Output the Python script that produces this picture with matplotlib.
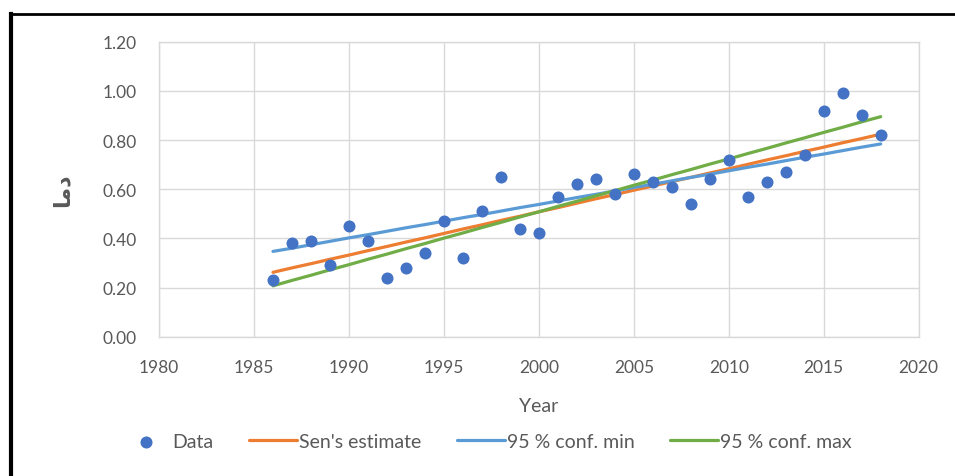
import numpy as np
import matplotlib.pyplot as plt
from matplotlib.lines import Line2D

years = list(range(1986, 2019))

data = [0.23, 0.38, 0.39, 0.29, 0.45, 0.39, 0.24, 0.28, 0.34, 0.47,
        0.32, 0.51, 0.65, 0.44, 0.42, 0.57, 0.62, 0.64, 0.58, 0.66,
        0.63, 0.61, 0.54, 0.64, 0.72, 0.57, 0.63, 0.67, 0.74, 0.92,
        0.99, 0.90, 0.82]

sen = [0.262, 0.280, 0.297, 0.315, 0.332, 0.350, 0.367, 0.385, 0.402, 0.420,
       0.438, 0.455, 0.473, 0.490, 0.508, 0.525, 0.543, 0.561, 0.578, 0.596,
       0.613, 0.631, 0.648, 0.666, 0.683, 0.701, 0.719, 0.736, 0.754, 0.771,
       0.789, 0.806, 0.824]

conf_min = [0.347, 0.360, 0.374, 0.388, 0.402, 0.415, 0.429, 0.443, 0.456, 0.470,
            0.484, 0.497, 0.511, 0.525, 0.538, 0.552, 0.566, 0.579, 0.593, 0.607,
            0.620, 0.634, 0.648, 0.661, 0.675, 0.689, 0.702, 0.716, 0.730, 0.743,
            0.757, 0.771, 0.784]

conf_max = [0.207, 0.229, 0.250, 0.272, 0.293, 0.315, 0.336, 0.358, 0.379, 0.401,
            0.422, 0.444, 0.465, 0.487, 0.508, 0.530, 0.551, 0.573, 0.594, 0.616,
            0.637, 0.659, 0.680, 0.702, 0.723, 0.745, 0.766, 0.788, 0.809, 0.831,
            0.852, 0.874, 0.895]

xticks = [1980, 1985, 1990, 1995, 2000, 2005, 2010, 2015, 2020]
yticks = [0.0, 0.2, 0.4, 0.6, 0.8, 1.0, 1.2]

plt.rcParams['font.family'] = ['Lato', 'DejaVu Sans']
txt = "#595959"
grid = "#d9d9d9"

fig = plt.figure(figsize=(9.55, 4.77), dpi=100)
ax = fig.add_axes([0.1665, 0.292, 0.7955, 0.6185])

ax.plot(years, sen, color="#ED7D31", lw=2.3, label="Sen's estimate", zorder=3, solid_capstyle="round")
ax.plot(years, conf_min, color="#5B9BD5", lw=2.3, label="95 % conf. min", zorder=3, solid_capstyle="round")
ax.plot(years, conf_max, color="#70AD47", lw=2.3, label="95 % conf. max", zorder=3, solid_capstyle="round")
ax.scatter(years, data, s=75, color="#4472C4", label="Data", zorder=4, linewidths=0)

ax.set_xlim(1980, 2020)
ax.set_ylim(0, 1.2)
ax.set_xticks(xticks)
ax.set_yticks(yticks)
ax.set_yticklabels(["%.2f" % v for v in yticks])
ax.grid(True, color=grid, lw=1)
ax.set_axisbelow(True)
for s in ax.spines.values():
    s.set_color(grid)
    s.set_linewidth(1)
ax.tick_params(length=0, labelsize=12.5, colors=txt)
ax.tick_params(axis="y", pad=16)
ax.tick_params(axis="x", pad=16)
ax.set_xlabel("Year", fontsize=14, color=txt, labelpad=16)

# Persian label, shaped by hand (matplotlib has no RTL shaping)
fig.text(62 / 955, 1 - 190 / 477, "\uFE8E\uFEE3\uFEA9", rotation=90, fontsize=16,
         color=txt, ha="center", va="center", family=["DejaVu Sans"], fontweight="bold")

h, l = ax.get_legend_handles_labels()
order = [3, 0, 1, 2]
fig.legend([h[i] for i in order], [l[i] for i in order], loc="center",
           bbox_to_anchor=(0.51, 0.072), ncol=4, frameon=False, fontsize=14,
           labelcolor=txt, handlelength=2.5, handletextpad=0.1, columnspacing=1.8)

# black frame pieces from the screenshot
fig.add_artist(Line2D([0.0115, 0.0115], [0, 0.9686], color="black", lw=3, transform=fig.transFigure))
fig.add_artist(Line2D([0.0105, 1.0], [0.9686, 0.9686], color="black", lw=2, transform=fig.transFigure))

fig.savefig("out.png", dpi=100)
